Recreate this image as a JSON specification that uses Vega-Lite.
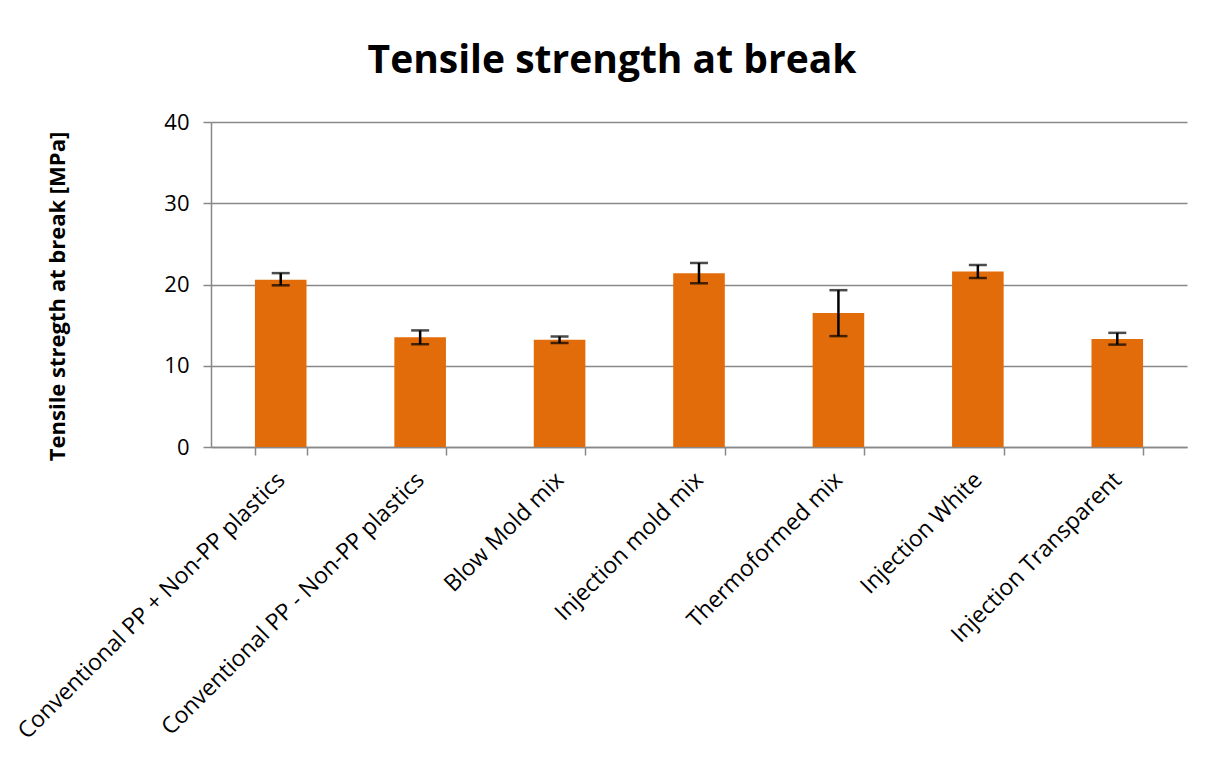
{
  "$schema": "https://vega.github.io/schema/vega-lite/v6.json",
  "width": 976,
  "height": 325,
  "autosize": {"type": "none"},
  "padding": {"left": 211, "top": 122, "right": 26, "bottom": 311},
  "background": "white",
  "title": {
    "text": "Tensile strength at break",
    "font": "Open Sans",
    "fontSize": 39,
    "fontWeight": "bold",
    "color": "black",
    "anchor": "middle",
    "offset": 30,
    "dx": -87
  },
  "config": {
    "view": {"stroke": null},
    "font": "Open Sans"
  },
  "data": {
    "values": [
      {"cat": "Conventional PP + Non-PP plastics", "mean": 20.6, "lo": 19.9, "hi": 21.4},
      {"cat": "Conventional PP - Non-PP plastics", "mean": 13.5, "lo": 12.65, "hi": 14.35},
      {"cat": "Blow Mold mix", "mean": 13.2, "lo": 12.8, "hi": 13.6},
      {"cat": "Injection mold mix", "mean": 21.4, "lo": 20.15, "hi": 22.65},
      {"cat": "Thermoformed mix", "mean": 16.5, "lo": 13.65, "hi": 19.3},
      {"cat": "Injection White", "mean": 21.6, "lo": 20.8, "hi": 22.4},
      {"cat": "Injection Transparent", "mean": 13.3, "lo": 12.6, "hi": 14.05}
    ]
  },
  "encoding": {
    "x": {
      "field": "cat",
      "type": "nominal",
      "sort": null,
      "scale": {"paddingInner": 0.63, "paddingOuter": 0.315},
      "axis": {
        "title": null,
        "labelAngle": -45,
        "labelAlign": "right",
        "labelBaseline": "middle",
        "labelFont": "Open Sans",
        "labelFontSize": 23,
        "labelColor": "black",
        "labelPadding": 21,
        "labelLimit": 600,
        "tickBand": "extent",
        "tickSize": 8,
        "tickColor": "#888888",
        "tickWidth": 1.5,
        "domainColor": "#888888",
        "domainWidth": 1.5,
        "grid": false
      }
    }
  },
  "layer": [
    {
      "mark": {"type": "bar", "color": "#E36C0A"},
      "encoding": {
        "y": {
          "field": "mean",
          "type": "quantitative",
          "scale": {"domain": [0, 40]},
          "axis": {
            "title": "Tensile stregth at break [MPa]",
            "titleFont": "Open Sans",
            "titleFontSize": 22,
            "titleFontWeight": "bold",
            "titleColor": "black",
            "titleX": -154,
            "titleY": 174,
            "titleAlign": "center",
            "titleBaseline": "middle",
            "titleAngle": 270,
            "values": [0, 10, 20, 30, 40],
            "labelFont": "Open Sans",
            "labelFontSize": 22,
            "labelColor": "black",
            "labelPadding": 14,
            "tickSize": 8,
            "tickColor": "#888888",
            "tickWidth": 1.5,
            "domainColor": "#888888",
            "domainWidth": 1.5,
            "grid": true,
            "gridColor": "#888888",
            "gridWidth": 1.5
          }
        }
      }
    },
    {
      "mark": {"type": "rule", "color": "black", "strokeWidth": 2.5},
      "encoding": {
        "y": {"field": "lo", "type": "quantitative"},
        "y2": {"field": "hi"}
      }
    },
    {
      "mark": {"type": "tick", "color": "black", "thickness": 2.5, "size": 18},
      "encoding": {"y": {"field": "lo", "type": "quantitative"}}
    },
    {
      "mark": {"type": "tick", "color": "black", "thickness": 2.5, "size": 18},
      "encoding": {"y": {"field": "hi", "type": "quantitative"}}
    }
  ]
}
